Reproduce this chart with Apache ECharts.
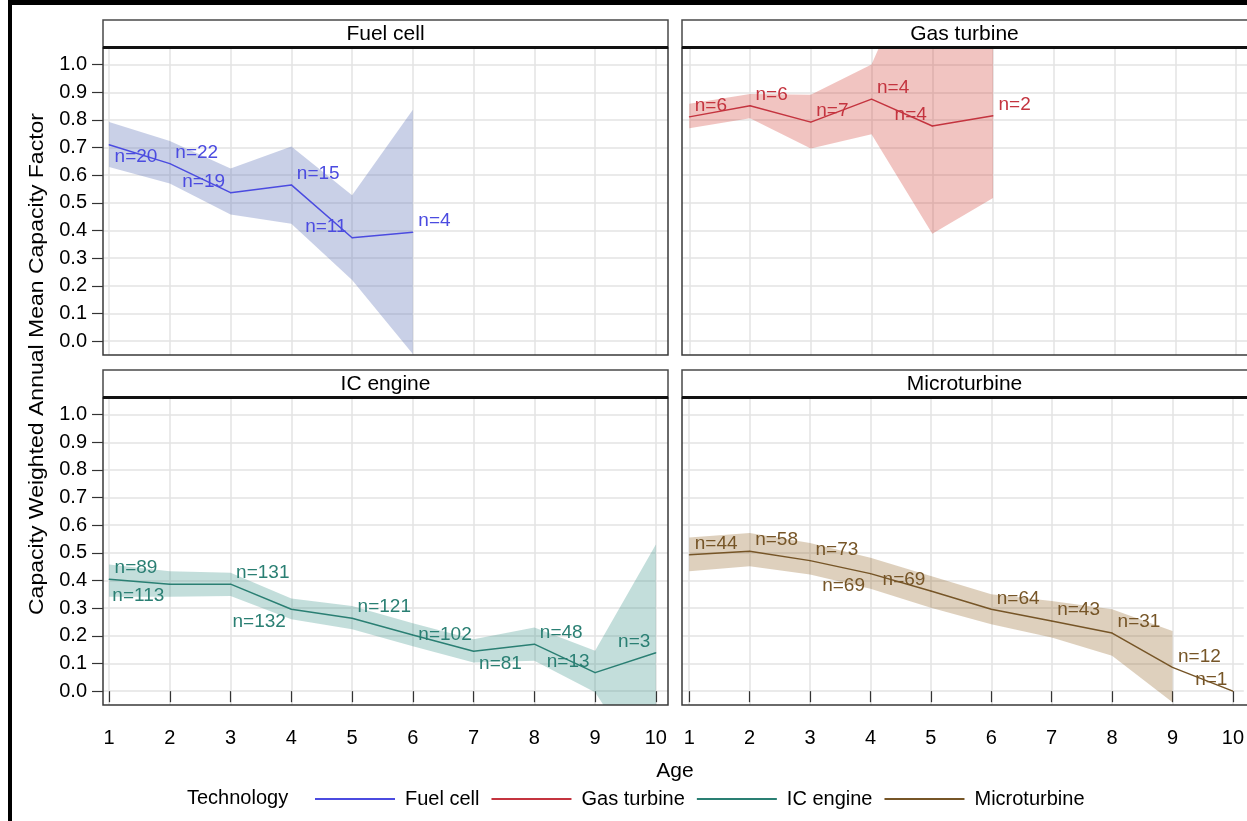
<!DOCTYPE html>
<html>
<head>
<meta charset="utf-8">
<script src="https://cdn.jsdelivr.net/npm/echarts@6/dist/echarts.min.js"></script>
<style>html,body{margin:0;padding:0;background:#fff;}#c{width:1247px;height:821px;}</style>
</head>
<body>
<div id="c"></div>
<script>
// ---- data ----
const ages = [1, 2, 3, 4, 5, 6, 7, 8, 9, 10];
const yTicks = [0.0, 0.1, 0.2, 0.3, 0.4, 0.5, 0.6, 0.7, 0.8, 0.9, 1.0];
const technologies = ['Fuel cell', 'Gas turbine', 'IC engine', 'Microturbine'];

const fuelCellMean  = [0.710, 0.642, 0.537, 0.565, 0.374, 0.394];
const fuelCellUpper = [0.792, 0.724, 0.624, 0.704, 0.528, 0.837];
const fuelCellLower = [0.630, 0.570, 0.458, 0.425, 0.221, -0.046];
const fuelCellN     = [20, 22, 19, 15, 11, 4];

const gasTurbineMean  = [0.811, 0.851, 0.792, 0.875, 0.778, 0.815];
const gasTurbineUpper = [0.858, 0.894, 0.891, 1.000, 1.500, 1.300];
const gasTurbineLower = [0.770, 0.806, 0.697, 0.748, 0.388, 0.518];
const gasTurbineN     = [6, 6, 7, 4, 4, 2];

const icEngineMean  = [0.405, 0.387, 0.387, 0.296, 0.264, 0.203, 0.144, 0.170, 0.067, 0.139];
const icEngineUpper = [0.458, 0.434, 0.428, 0.335, 0.308, 0.246, 0.188, 0.230, 0.146, 0.530];
const icEngineLower = [0.341, 0.341, 0.344, 0.260, 0.224, 0.162, 0.104, 0.110, -0.004, -0.340];
const icEngineN     = [89, 113, 131, 132, 121, 102, 81, 48, 13, 3];

const microturbineMean  = [0.493, 0.506, 0.472, 0.425, 0.362, 0.296, 0.254, 0.210, 0.086, 0.000];
const microturbineUpper = [0.556, 0.572, 0.536, 0.482, 0.416, 0.350, 0.326, 0.296, 0.218];
const microturbineLower = [0.434, 0.452, 0.422, 0.370, 0.302, 0.242, 0.194, 0.128, -0.040];
const microturbineN     = [44, 58, 73, 69, 69, 64, 43, 31, 12, 1];

// label placement around each point (T/B = above/below, R/L = right/left)
const fuelCellPlace     = ['BR', 'TR', 'TL', 'TR', 'TL', 'TR'];
const gasTurbinePlace   = ['TR', 'TR', 'TR', 'TR', 'TL', 'TR'];
const icEnginePlace     = ['TR', 'BL', 'TR', 'BL', 'TR', 'R', 'BR', 'TR', 'TL', 'TL'];
const microturbinePlace = ['TR', 'TR', 'TR', 'BL', 'TL', 'TR', 'TR', 'TR', 'TR', 'TL'];

// ---- styling ----
const FONT = "'Liberation Sans', Arial, sans-serif";
const lineColors = ['#4b4be0', '#c4343f', '#2a7f73', '#765527'];
const bandColors = ['rgba(100,120,185,0.35)', 'rgba(210,60,50,0.30)', 'rgba(55,145,135,0.30)', 'rgba(145,100,35,0.30)'];

const panels = [
  { mean: fuelCellMean, upper: fuelCellUpper, lower: fuelCellLower, n: fuelCellN, place: fuelCellPlace },
  { mean: gasTurbineMean, upper: gasTurbineUpper, lower: gasTurbineLower, n: gasTurbineN, place: gasTurbinePlace },
  { mean: icEngineMean, upper: icEngineUpper, lower: icEngineLower, n: icEngineN, place: icEnginePlace },
  { mean: microturbineMean, upper: microturbineUpper, lower: microturbineLower, n: microturbineN, place: microturbinePlace }
];

// panel boxes (right column runs to the picture edge; its frame continues past it)
const boxes = [
  { left: 103, top: 48, width: 565, height: 307 },
  { left: 682, top: 48, width: 565, height: 307 },
  { left: 103, top: 398, width: 565, height: 307 },
  { left: 682, top: 398, width: 565, height: 307 }
];

const grids = [], xAxes = [], yAxes = [], series = [], graphics = [];

boxes.forEach((b, i) => {
  const bottomRow = i >= 2, leftCol = i % 2 === 0;
  const frameW = leftCol ? b.width : b.width + 6;
  grids.push(Object.assign({ show: false, containLabel: false }, b));
  xAxes.push({
    type: 'value', gridIndex: i, min: leftCol ? 0.9 : 0.88, max: leftCol ? 10.2 : 10.18,
    axisLine: { show: false },
    axisTick: { show: bottomRow, customValues: ages, length: 11, lineStyle: { color: '#333', width: 1.2 } },
    axisLabel: { show: bottomRow, customValues: ages, margin: 23, fontSize: 20, color: '#000', fontFamily: FONT },
    splitLine: { show: true, lineStyle: { color: '#e3e3e3', width: 1.5 } }
  });
  yAxes.push({
    type: 'value', gridIndex: i, min: -0.05, max: 1.06,
    axisLine: { show: false },
    axisTick: { show: leftCol, customValues: yTicks, length: 11, lineStyle: { color: '#333', width: 1.2 } },
    axisLabel: { show: leftCol, customValues: yTicks, margin: 16, fontSize: 20, color: '#000', fontFamily: FONT,
                 formatter: v => Number(v).toFixed(1) },
    splitLine: { show: true, lineStyle: { color: '#e3e3e3', width: 1.5 } }
  });

  // panel frame
  graphics.push({ type: 'rect', shape: { x: b.left, y: b.top, width: frameW, height: b.height },
    style: { fill: null, stroke: '#3a3a3a', lineWidth: 1.5 }, z: 9 });
  // header strip
  graphics.push({ type: 'rect', shape: { x: b.left, y: b.top - 28, width: frameW, height: 28 },
    style: { fill: '#fff', stroke: '#4a4a4a', lineWidth: 1.5 }, z: 10 });
  graphics.push({ type: 'rect', shape: { x: b.left, y: b.top - 2, width: frameW, height: 3 },
    style: { fill: '#111' }, z: 11 });
  graphics.push({ type: 'text', x: b.left + b.width / 2, y: b.top - 14, z: 12,
    style: { text: technologies[i], fill: '#000', font: '21px ' + FONT, textAlign: 'center', textVerticalAlign: 'middle' } });

  const p = panels[i];
  const bandData = p.upper.map((u, k) => [ages[k], p.lower[k], u]);
  series.push({
    type: 'custom', xAxisIndex: i, yAxisIndex: i, clip: true, silent: true, z: 2,
    encode: { x: 0, y: [1, 2] },
    data: bandData,
    renderItem: (params, api) => {
      if (params.dataIndex !== 0) return null;
      const pts = [];
      bandData.forEach(d => pts.push(api.coord([d[0], d[2]])));
      for (let k = bandData.length - 1; k >= 0; k--) pts.push(api.coord([bandData[k][0], bandData[k][1]]));
      return { type: 'polygon', shape: { points: pts }, style: { fill: bandColors[i], stroke: null } };
    }
  });
  const meanAges = ages.slice(0, p.mean.length);
  series.push({
    name: technologies[i], type: 'line', xAxisIndex: i, yAxisIndex: i,
    color: lineColors[i], symbol: 'circle', symbolSize: 1, silent: true,
    lineStyle: { color: lineColors[i], width: 1.5 },
    itemStyle: { color: lineColors[i] },
    z: 5,
    data: meanAges.map((a, k) => {
      const pl = p.place[k];
      const right = pl.indexOf('R') >= 0;
      const dy = pl.indexOf('T') >= 0 ? -11 : (pl.indexOf('B') >= 0 ? 12 : 0);
      return {
        value: [a, p.mean[k]],
        label: { show: true, formatter: 'n=' + p.n[k], position: right ? 'right' : 'left',
                 distance: 5, offset: [0, dy], color: lineColors[i], fontSize: 19, fontFamily: FONT }
      };
    })
  });
});

// frame border of the picture
graphics.push({ type: 'rect', shape: { x: 8, y: 0, width: 4, height: 821 }, style: { fill: '#000' }, z: 20 });
graphics.push({ type: 'rect', shape: { x: 8, y: 0, width: 1239, height: 5 }, style: { fill: '#000' }, z: 20 });
// axis titles
graphics.push({ type: 'text', x: 675, y: 771, z: 12,
  style: { text: 'Age', fill: '#000', font: '21px ' + FONT, textAlign: 'center', textVerticalAlign: 'middle' } });
graphics.push({ type: 'text', x: 37, y: 364, rotation: Math.PI / 2, scaleX: 1.15, z: 12,
  style: { text: 'Capacity Weighted Annual Mean Capacity Factor', fill: '#000', font: '20px ' + FONT,
           textAlign: 'center', textVerticalAlign: 'middle' } });
graphics.push({ type: 'text', x: 187, y: 798, z: 12,
  style: { text: 'Technology', fill: '#000', font: '20px ' + FONT, textAlign: 'left', textVerticalAlign: 'middle' } });

const chart = echarts.init(document.getElementById('c'), null, { renderer: 'canvas' });
chart.setOption({
  animation: false,
  backgroundColor: '#fff',
  grid: grids, xAxis: xAxes, yAxis: yAxes, series: series,
  legend: {
    data: technologies, left: 310, top: 784, padding: 5, icon: 'rect', itemWidth: 80, itemHeight: 2, itemGap: 12,
    selectedMode: false,
    textStyle: { fontSize: 20, color: '#000', fontFamily: FONT, padding: [0, 0, 0, 5] }
  },
  graphic: { elements: graphics }
});
</script>
</body>
</html>
